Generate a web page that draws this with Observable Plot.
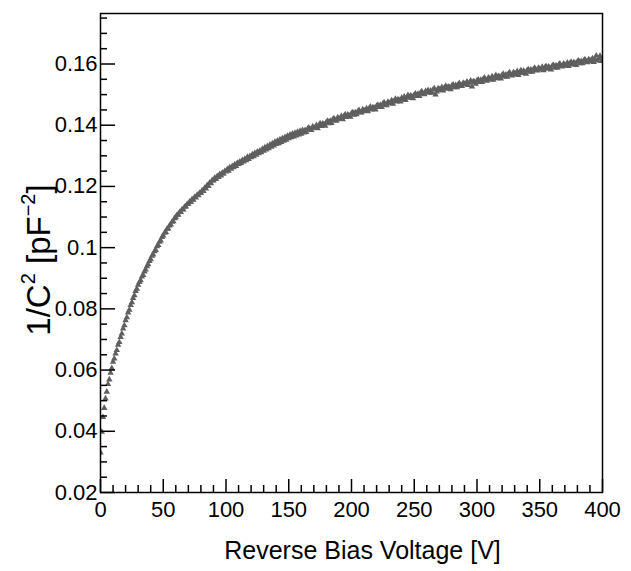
<!DOCTYPE html>
<html>
<head>
<meta charset="utf-8">
<script src="https://cdn.jsdelivr.net/npm/d3@7"></script>
<script src="https://cdn.jsdelivr.net/npm/@observablehq/plot@0.6"></script>
<style>
  html, body { margin: 0; padding: 0; background: #fff; }
  #chart svg { display: block; }
</style>
</head>
<body>
<div id="chart"></div>
<script>
// Reverse bias voltage [V]
const voltage = [
  0,1,2,3,4,5,6,7,8,9,10,11,12,13,14,15,16,17,18,19,
  20,21,22,23,24,25,26,27,28,29,30,31,32,33,34,35,36,37,38,39,
  40,41,42,43,44,45,46,47,48,49,50,51,52,53,54,55,56,57,58,59,
  60,61,62,63,64,65,66,67,68,69,70,71,72,73,74,75,76,77,78,79,
  80,81,82,83,84,85,86,87,88,89,90,91,92,93,94,95,96,97,98,99,
  100,101,102,103,104,105,106,107,108,109,110,111,112,113,114,115,116,117,118,119,
  120,121,122,123,124,125,126,127,128,129,130,131,132,133,134,135,136,137,138,139,
  140,141,142,143,144,145,146,147,148,149,150,151,152,153,154,155,156,157,158,159,
  160,161,162,163,164,165,166,167,168,169,170,171,172,173,174,175,176,177,178,179,
  180,181,182,183,184,185,186,187,188,189,190,191,192,193,194,195,196,197,198,199,
  200,201,202,203,204,205,206,207,208,209,210,211,212,213,214,215,216,217,218,219,
  220,221,222,223,224,225,226,227,228,229,230,231,232,233,234,235,236,237,238,239,
  240,241,242,243,244,245,246,247,248,249,250,251,252,253,254,255,256,257,258,259,
  260,261,262,263,264,265,266,267,268,269,270,271,272,273,274,275,276,277,278,279,
  280,281,282,283,284,285,286,287,288,289,290,291,292,293,294,295,296,297,298,299,
  300,301,302,303,304,305,306,307,308,309,310,311,312,313,314,315,316,317,318,319,
  320,321,322,323,324,325,326,327,328,329,330,331,332,333,334,335,336,337,338,339,
  340,341,342,343,344,345,346,347,348,349,350,351,352,353,354,355,356,357,358,359,
  360,361,362,363,364,365,366,367,368,369,370,371,372,373,374,375,376,377,378,379,
  380,381,382,383,384,385,386,387,388,389,390,391,392,393,394,395,396,397,398,399,
  400
];

// 1/C^2 [pF^-2]
const invC2 = [
  0.0330,0.0398,0.0446,0.0476,0.0507,0.0529,0.0554,0.0569,0.0591,0.0606,
  0.0627,0.0637,0.0654,0.0665,0.0682,0.0691,0.0708,0.0719,0.0735,0.0746,
  0.0762,0.0772,0.0788,0.0797,0.0812,0.0821,0.0835,0.0844,0.0858,0.0865,
  0.0878,0.0887,0.0893,0.0905,0.0910,0.0922,0.0928,0.0939,0.0945,0.0956,
  0.0962,0.0973,0.0977,0.0988,0.0992,0.1004,0.1008,0.1019,0.1023,0.1034,
  0.1039,0.1048,0.1051,0.1061,0.1062,0.1072,0.1075,0.1084,0.1086,0.1096,
  0.1099,0.1107,0.1107,0.1116,0.1116,0.1125,0.1124,0.1133,0.1134,0.1142,
  0.1143,0.1150,0.1149,0.1158,0.1156,0.1165,0.1163,0.1172,0.1171,0.1179,
  0.1178,0.1187,0.1185,0.1195,0.1193,0.1204,0.1201,0.1212,0.1210,0.1220,
  0.1219,0.1228,0.1224,0.1233,0.1230,0.1240,0.1235,0.1244,0.1241,0.1250,
  0.1248,0.1256,0.1251,0.1262,0.1257,0.1266,0.1262,0.1272,0.1266,0.1277,
  0.1273,0.1281,0.1276,0.1286,0.1281,0.1290,0.1285,0.1296,0.1289,0.1299,
  0.1295,0.1304,0.1298,0.1309,0.1303,0.1313,0.1308,0.1317,0.1311,0.1322,
  0.1316,0.1327,0.1320,0.1331,0.1324,0.1336,0.1329,0.1340,0.1333,0.1345,
  0.1338,0.1349,0.1341,0.1353,0.1345,0.1357,0.1349,0.1361,0.1352,0.1365,
  0.1357,0.1369,0.1360,0.1372,0.1363,0.1375,0.1366,0.1378,0.1369,0.1381,
  0.1372,0.1384,0.1376,0.1384,0.1377,0.1388,0.1392,0.1386,0.1384,0.1395,
  0.1392,0.1391,0.1400,0.1390,0.1399,0.1406,0.1397,0.1405,0.1403,0.1398,
  0.1410,0.1414,0.1406,0.1414,0.1407,0.1418,0.1422,0.1416,0.1414,0.1425,
  0.1422,0.1420,0.1430,0.1419,0.1429,0.1435,0.1426,0.1434,0.1432,0.1427,
  0.1439,0.1442,0.1434,0.1442,0.1435,0.1445,0.1449,0.1442,0.1441,0.1451,
  0.1448,0.1446,0.1455,0.1445,0.1454,0.1460,0.1451,0.1458,0.1457,0.1451,
  0.1463,0.1466,0.1459,0.1466,0.1459,0.1470,0.1474,0.1467,0.1465,0.1476,
  0.1473,0.1471,0.1481,0.1470,0.1479,0.1486,0.1477,0.1484,0.1482,0.1477,
  0.1489,0.1484,0.1493,0.1482,0.1491,0.1498,0.1489,0.1496,0.1494,0.1488,
  0.1500,0.1503,0.1495,0.1502,0.1495,0.1506,0.1510,0.1503,0.1501,0.1511,
  0.1508,0.1514,0.1506,0.1513,0.1506,0.1516,0.1520,0.1500,0.1510,0.1520,
  0.1517,0.1515,0.1524,0.1513,0.1522,0.1528,0.1519,0.1526,0.1524,0.1517,
  0.1529,0.1532,0.1524,0.1531,0.1524,0.1533,0.1537,0.1530,0.1528,0.1538,
  0.1535,0.1533,0.1542,0.1531,0.1539,0.1545,0.1526,0.1543,0.1541,0.1535,
  0.1546,0.1549,0.1541,0.1548,0.1541,0.1551,0.1555,0.1548,0.1545,0.1555,
  0.1552,0.1550,0.1559,0.1548,0.1557,0.1563,0.1553,0.1560,0.1558,0.1552,
  0.1564,0.1567,0.1559,0.1565,0.1558,0.1568,0.1572,0.1565,0.1562,0.1572,
  0.1569,0.1567,0.1576,0.1564,0.1573,0.1579,0.1570,0.1577,0.1574,0.1568,
  0.1580,0.1582,0.1574,0.1581,0.1574,0.1583,0.1587,0.1580,0.1578,0.1587,
  0.1584,0.1582,0.1590,0.1579,0.1588,0.1593,0.1584,0.1591,0.1588,0.1582,
  0.1594,0.1596,0.1588,0.1595,0.1587,0.1597,0.1601,0.1593,0.1591,0.1601,
  0.1598,0.1595,0.1604,0.1593,0.1602,0.1607,0.1598,0.1605,0.1603,0.1596,
  0.1608,0.1611,0.1602,0.1609,0.1602,0.1611,0.1615,0.1608,0.1605,0.1615,
  0.1612,0.1609,0.1618,0.1606,0.1615,0.1627,0.1611,0.1618,0.1626,0.1609,
  0.1621
];

const xMajorTicks = [0, 50, 100, 150, 200, 250, 300, 350, 400];
const xMinorTicks = [10,20,30,40,60,70,80,90,110,120,130,140,160,170,180,190,210,220,230,240,260,270,280,290,310,320,330,340,360,370,380,390];
const yMajorTicks = [0.02, 0.04, 0.06, 0.08, 0.1, 0.12, 0.14, 0.16];
const yMinorTicks = [0.025,0.03,0.035,0.045,0.05,0.055,0.065,0.07,0.075,0.085,0.09,0.095,0.105,0.11,0.115,0.125,0.13,0.135,0.145,0.15,0.155,0.165,0.17,0.175];
const yMajorLabels = ["0.02", "0.04", "0.06", "0.08", "0.1", "0.12", "0.14", "0.16"];
const xTitle = "Reverse Bias Voltage [V]";

const data = voltage.map((v, i) => ({v, c: invC2[i]}));

const font = "'Liberation Sans', Arial, Helvetica, sans-serif";

const W = 631, H = 571, mL = 100, mR = 29, mT = 13, mB = 79;
const frameW = W - mL - mR, frameH = H - mT - mB;

const plot = Plot.plot({
  width: W,
  height: H,
  marginLeft: mL,
  marginRight: mR,
  marginTop: mT,
  marginBottom: mB,
  style: {fontFamily: font, fontSize: "22px", background: "#fff", color: "#000"},
  x: {domain: [0, 400]},
  y: {domain: [0.02, 0.1765]},
  marks: [
    Plot.dot(data, {x: "v", y: "c", symbol: "triangle", r: 2.4, fill: "#5f5f5f", stroke: "none", clip: true}),
    Plot.frame({stroke: "#000", strokeWidth: 1.5}),
    Plot.tickX(xMajorTicks, {x: d => d, insetTop: frameH - 13, stroke: "#000", strokeWidth: 1.5}),
    Plot.tickX(xMinorTicks, {x: d => d, insetTop: frameH - 7, stroke: "#000", strokeWidth: 1.5}),
    Plot.tickY(yMajorTicks, {y: d => d, insetRight: frameW - 15, stroke: "#000", strokeWidth: 1.5}),
    Plot.tickY(yMinorTicks, {y: d => d, insetRight: frameW - 7, stroke: "#000", strokeWidth: 1.5}),
    Plot.axisX({ticks: xMajorTicks, tickSize: 0, tickPadding: 9, tickFormat: d => String(d), label: null}),
    Plot.axisY({ticks: yMajorTicks, tickSize: 0, tickPadding: 3, tickFormat: (d, i) => yMajorLabels[i], label: null}),
    Plot.text([xTitle], {frameAnchor: "bottom", text: d => d, dy: 66, dx: 11, fontSize: 25, fill: "#000"})
  ]
});

const svg = d3.select(plot);

// y-axis title with superscripts (real text)
const yt = svg.append("text")
  .attr("transform", "translate(50,260) rotate(-90)")
  .attr("text-anchor", "middle")
  .attr("font-family", font)
  .attr("font-size", 33)
  .attr("fill", "#000");
yt.append("tspan").text("1/C");
yt.append("tspan").attr("dy", -15).attr("font-size", 20).text("2");
yt.append("tspan").attr("dy", 15).text(" [pF");
yt.append("tspan").attr("dy", -15).attr("font-size", 20).text("\u22122");
yt.append("tspan").attr("dy", 15).text("]");

document.getElementById("chart").appendChild(plot);
</script>
</body>
</html>
